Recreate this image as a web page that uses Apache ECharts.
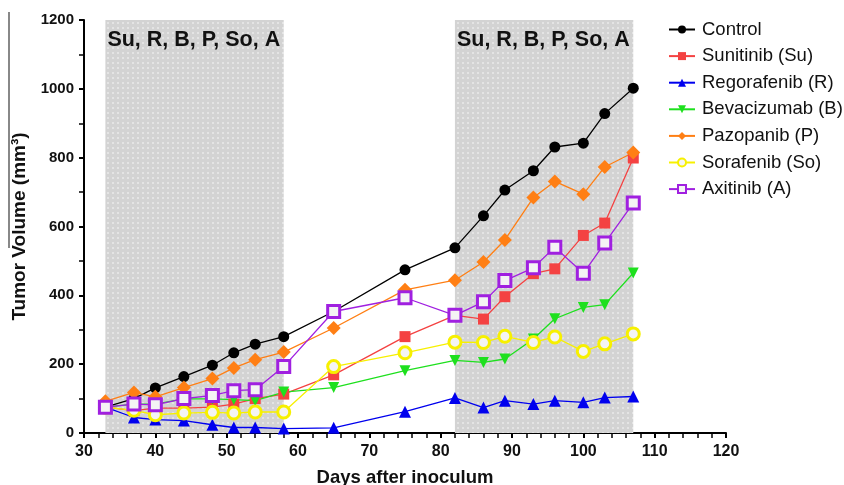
<!DOCTYPE html>
<html>
<head>
<meta charset="utf-8">
<script src="https://cdn.jsdelivr.net/npm/echarts@6/dist/echarts.min.js"></script>
<style>
  html, body { margin: 0; padding: 0; background: #fff; }
  #main { width: 844px; height: 485px; }
</style>
</head>
<body>
<div id="main"></div>
<script>
// days after inoculum
const days = [33, 37, 40, 44, 48, 51, 54, 58, 65, 75, 82, 86, 89, 93, 96, 100, 103, 107];

// tumor volumes (mm3)
const control     = [75, 100, 131, 164, 197, 233, 258, 280, 353, 474, 538, 631, 706, 762, 831, 842, 928, 1002];
const sunitinib   = [75, 65, 72, 72, 75, 84, 100, 113, 169, 280, 342, 331, 396, 463, 477, 574, 610, 799];
const regorafenib = [75, 45, 39, 36, 24, 16, 16, 13, 15, 62, 102, 74, 94, 84, 94, 89, 103, 106];
const bevacizumab = [75, 84, 84, 99, 99, 97, 94, 119, 132, 181, 211, 205, 215, 273, 332, 365, 373, 465];
const pazopanib   = [92, 118, 105, 132, 158, 189, 213, 235, 305, 416, 444, 497, 561, 684, 731, 694, 773, 815];
const sorafenib   = [75, 66, 53, 58, 60, 58, 61, 61, 193, 233, 264, 263, 281, 263, 279, 237, 259, 288];
const axitinib    = [75, 84, 82, 100, 109, 123, 126, 193, 353, 393, 342, 381, 443, 480, 540, 464, 552, 668];

// treatment windows
const treatStart = [33, 82];
const treatEnd = [58, 107];
const treatLabel = 'Su, R, B, P, So, A';

const chart = echarts.init(document.getElementById('main'));

function pts(vals) {
  return days.map((d, i) => [d, vals[i]]);
}

// 灰底白点的填充图案
function dotPattern() {
  const c = document.createElement('canvas');
  c.width = 5;
  c.height = 5;
  const ctx = c.getContext('2d');
  ctx.fillStyle = '#d3d3d3';
  ctx.fillRect(0, 0, 5, 5);
  ctx.fillStyle = '#e4e4e4';
  ctx.fillRect(2, 2, 2, 2);
  return c;
}

// 三角形朝下
const downTriangle = 'path://M0,0 L10,0 L5,9 Z';

function line(name, vals, color, symbol, size, hollow) {
  return {
    name: name,
    type: 'line',
    data: pts(vals),
    symbol: symbol,
    symbolSize: size,
    lineStyle: { color: color, width: 1.3 },
    itemStyle: hollow
      ? { color: '#f4f4f4', borderColor: color, borderWidth: 3 }
      : { color: color },
    color: color,
    z: 3
  };
}

const series = [
  line('Control', control, '#000000', 'circle', 11),
  line('Sunitinib (Su)', sunitinib, '#f44242', 'rect', 11),
  line('Regorafenib (R)', regorafenib, '#0000ee', 'triangle', 12),
  line('Bevacizumab (B)', bevacizumab, '#1ee01e', downTriangle, 11),
  line('Pazopanib (P)', pazopanib, '#ff7f14', 'diamond', 14),
  line('Sorafenib (So)', sorafenib, '#f7f000', 'circle', 12, true),
  line('Axitinib (A)', axitinib, '#a020e0', 'rect', 12, true)
];

// gray shaded treatment periods
series[0].markArea = {
  silent: true,
  itemStyle: { color: { image: dotPattern(), repeat: 'repeat' } },
  label: {
    show: true,
    position: 'insideTopLeft',
    color: '#111',
    fontSize: 21.5,
    fontWeight: 'bold',
    fontFamily: 'Liberation Sans',
    offset: [-3, 4]
  },
  data: treatStart.map((s, i) => [{ xAxis: s, name: treatLabel }, { xAxis: treatEnd[i] }])
};

const option = {
  animation: false,
  textStyle: { fontFamily: 'Liberation Sans' },
  grid: { left: 84, right: 118, top: 20, bottom: 52, outerBoundsMode: 'none' },
  legend: {
    orient: 'vertical',
    left: 663,
    top: 15,
    itemGap: 7.6,
    itemWidth: 26,
    itemHeight: 10,
    textStyle: { fontSize: 18.5, lineHeight: 18, color: '#111', fontFamily: 'Liberation Sans', padding: [0, 0, 0, 2] },
    data: series.map(s => s.name)
  },
  xAxis: {
    type: 'value',
    min: 30,
    max: 120,
    interval: 10,
    name: 'Days after inoculum',
    nameLocation: 'middle',
    nameGap: 35,
    nameTextStyle: { fontSize: 18.5, fontWeight: 'bold', color: '#111' },
    axisLine: { onZero: false, lineStyle: { color: '#000', width: 2 } },
    axisTick: { length: 5, lineStyle: { width: 2 } },
    minorTick: { show: true, splitNumber: 5, length: 5, lineStyle: { color: '#000', width: 1.5 } },
    axisLabel: { fontSize: 16, fontWeight: 'bold', color: '#111', margin: 11 },
    splitLine: { show: false }
  },
  yAxis: {
    type: 'value',
    min: 0,
    max: 1200,
    interval: 200,
    name: 'Tumor Volume (mm³)',
    nameLocation: 'middle',
    nameGap: 43,
    nameTextStyle: { fontSize: 19, fontWeight: 'bold', color: '#111' },
    axisLine: { show: true, lineStyle: { color: '#000', width: 2 } },
    axisTick: { show: true, length: 5, lineStyle: { width: 2 } },
    minorTick: { show: true, splitNumber: 2, length: 5, lineStyle: { color: '#000', width: 1.5 } },
    axisLabel: { fontSize: 15, fontWeight: 'bold', color: '#111', margin: 10, formatter: v => String(v) },
    splitLine: { show: false }
  },
  graphic: [
    {
      type: 'line',
      shape: { x1: 9, y1: 12, x2: 9, y2: 248 },
      style: { stroke: '#888', lineWidth: 2 }
    }
  ],
  series: series
};

chart.setOption(option);
</script>
</body>
</html>
